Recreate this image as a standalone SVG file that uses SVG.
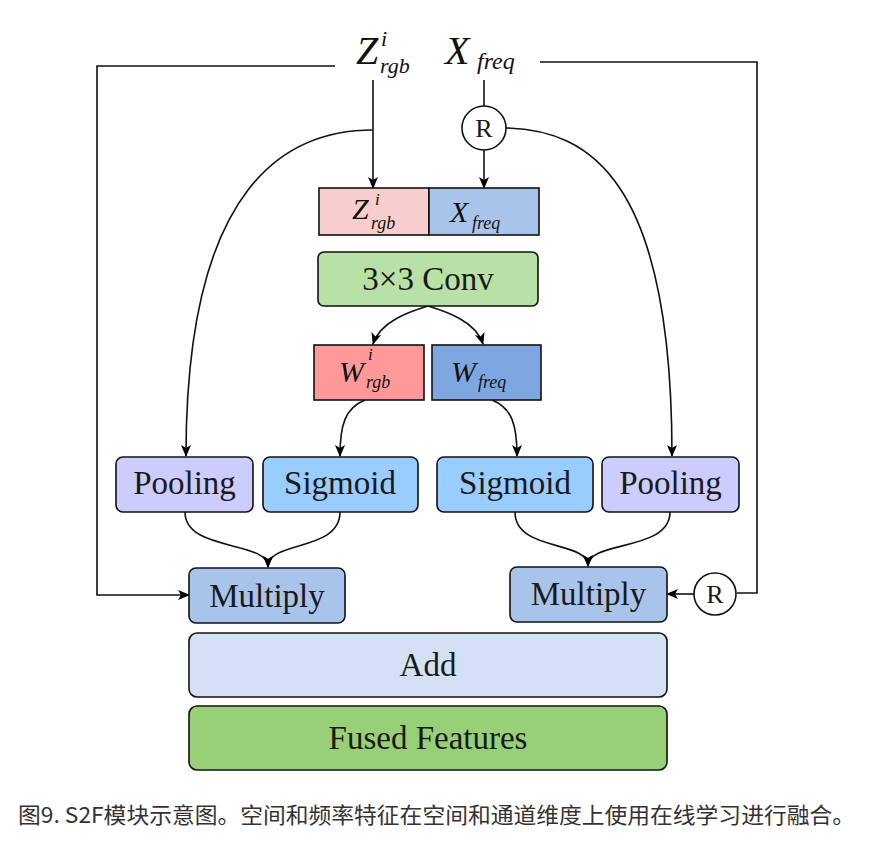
<svg xmlns="http://www.w3.org/2000/svg" width="877" height="853" viewBox="0 0 877 853">
<defs>
<marker id="arr" markerUnits="userSpaceOnUse" markerWidth="12" markerHeight="12" viewBox="0 0 12 12" refX="11" refY="6" orient="auto">
<path d="M0,1 L12,6 L0,11 L3,6 Z" fill="#000"/>
</marker>
<style>
.box{stroke:#111;stroke-width:1.6}
.lbl{font-family:"Liberation Serif","Times New Roman",serif;font-size:33px;fill:#1a1a1a;text-anchor:middle}
.m{font-family:"Liberation Serif","Times New Roman",serif;font-style:italic;fill:#111}
.ln{fill:none;stroke:#111;stroke-width:1.6}
.cap{font-family:"Noto Sans CJK SC","Noto Sans",sans-serif;font-size:22px;fill:#333}
</style>
</defs>
<rect width="877" height="853" fill="#fff"/>

<g id="connectors">
<path class="ln" d="M373,80 V188" marker-end="url(#arr)"/>
<path class="ln" d="M373,130 C290,130 186,180 186,456" marker-end="url(#arr)"/>
<path class="ln" d="M484,80 V106"/>
<path class="ln" d="M484,150 V188" marker-end="url(#arr)"/>
<path class="ln" d="M506,128 C590,130 672,180 672,456" marker-end="url(#arr)"/>
<path class="ln" d="M335,66 H97 V595 H189" marker-end="url(#arr)"/>
<path class="ln" d="M540,62 H757 V593 H737"/>
<path class="ln" d="M694,594 H667" marker-end="url(#arr)"/>
<path class="ln" d="M428,306 C408,312 380,322 373,344" marker-end="url(#arr)"/>
<path class="ln" d="M428,306 C448,312 476,322 483,344" marker-end="url(#arr)"/>
<path class="ln" d="M365,400 C345,408 340,425 340,456" marker-end="url(#arr)"/>
<path class="ln" d="M492,400 C512,408 517,425 517,456" marker-end="url(#arr)"/>
<path class="ln" d="M185,512 C185,552 268,540 268,567" marker-end="url(#arr)"/>
<path class="ln" d="M340,512 C340,552 268,540 268,567" marker-end="url(#arr)"/>
<path class="ln" d="M515,512 C515,552 588,540 588,566" marker-end="url(#arr)"/>
<path class="ln" d="M670,512 C670,552 588,540 588,566" marker-end="url(#arr)"/>
</g>

<g id="in-zrgb">
<text class="m" x="356" y="64" font-size="40">Z</text>
<text class="m" x="381" y="46" font-size="22">i</text>
<text class="m" x="380" y="73" font-size="22">rgb</text>
</g>
<g id="in-xfreq">
<text class="m" x="445" y="64" font-size="40">X</text>
<text class="m" x="477" y="69" font-size="24">freq</text>
</g>

<g id="r-top">
<circle cx="484" cy="128" r="22" fill="#fff" stroke="#111" stroke-width="1.6"/>
<text class="lbl" x="484" y="137" style="font-size:26px">R</text>
</g>

<g id="box-zrgb">
<rect class="box" x="319" y="188" width="110" height="47" fill="#f8cecc"/>
<text class="m" x="352" y="219" font-size="30">Z</text>
<text class="m" x="375" y="205" font-size="17">i</text>
<text class="m" x="371" y="229" font-size="18">rgb</text>
</g>
<g id="box-xfreq">
<rect class="box" x="429" y="188" width="110" height="47" fill="#a9c4eb"/>
<text class="m" x="450" y="222" font-size="30">X</text>
<text class="m" x="472" y="229" font-size="18">freq</text>
</g>

<g id="conv">
<rect class="box" x="318" y="252" width="220" height="54" rx="6" fill="#b9e0a5"/>
<text class="lbl" x="428" y="290">3×3 Conv</text>
</g>

<g id="w-rgb">
<rect class="box" x="314" y="345" width="110" height="55" fill="#ff9999"/>
<text class="m" x="339" y="382" font-size="30">W</text>
<text class="m" x="368" y="360" font-size="17">i</text>
<text class="m" x="366" y="388" font-size="18">rgb</text>
</g>
<g id="w-freq">
<rect class="box" x="432" y="345" width="109" height="55" fill="#7ea6e0"/>
<text class="m" x="451" y="382" font-size="30">W</text>
<text class="m" x="478" y="388" font-size="18">freq</text>
</g>

<g id="pool-l">
<rect class="box" x="116" y="457" width="137" height="55" rx="7" fill="#ccccff"/>
<text class="lbl" x="184.5" y="494">Pooling</text>
</g>
<g id="sig-l">
<rect class="box" x="263" y="457" width="155" height="55" rx="7" fill="#99ccff"/>
<text class="lbl" x="340" y="494">Sigmoid</text>
</g>
<g id="sig-r">
<rect class="box" x="437" y="457" width="156" height="55" rx="7" fill="#99ccff"/>
<text class="lbl" x="515" y="494">Sigmoid</text>
</g>
<g id="pool-r">
<rect class="box" x="602" y="457" width="137" height="55" rx="7" fill="#ccccff"/>
<text class="lbl" x="670.5" y="494">Pooling</text>
</g>

<g id="mul-l">
<rect class="box" x="189" y="568" width="156" height="55" rx="7" fill="#a9c4eb"/>
<text class="lbl" x="267" y="607">Multiply</text>
</g>
<g id="mul-r">
<rect class="box" x="510" y="567" width="157" height="55" rx="7" fill="#a9c4eb"/>
<text class="lbl" x="588.5" y="605">Multiply</text>
</g>
<g id="r-right">
<circle cx="715" cy="594" r="21" fill="#fff" stroke="#111" stroke-width="1.6"/>
<text class="lbl" x="715" y="603" style="font-size:26px">R</text>
</g>

<g id="add">
<rect class="box" x="189" y="633" width="478" height="64" rx="8" fill="#d4e1f5"/>
<text class="lbl" x="428" y="676">Add</text>
</g>
<g id="fused">
<rect class="box" x="189" y="706" width="478" height="64" rx="8" fill="#97d077"/>
<text class="lbl" x="428" y="749">Fused Features</text>
</g>

<text class="cap" x="18" y="823" textLength="837" lengthAdjust="spacingAndGlyphs">图9. S2F模块示意图。空间和频率特征在空间和通道维度上使用在线学习进行融合。</text>
</svg>
